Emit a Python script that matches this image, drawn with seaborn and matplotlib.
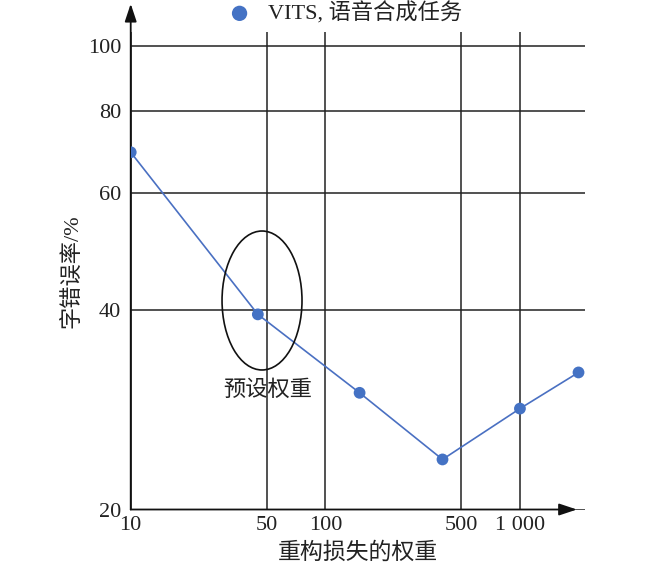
import matplotlib
matplotlib.use("Agg")
import matplotlib.pyplot as plt
import seaborn as sns
import pandas as pd
from matplotlib.patches import Ellipse
from matplotlib.ticker import FixedLocator, FixedFormatter, NullLocator

# ---- data ----
weights = [10, 45, 150, 400, 1000, 2000]
cer = [69.2, 39.4, 30.0, 23.8, 28.4, 32.2]
series_label = "VITS, 语音合成任务"
x_ticks = [10, 50, 100, 500, 1000]
x_tick_labels = ["10", "50", "100", "500", "1 000"]
y_ticks = [20, 40, 60, 80, 100]
y_tick_labels = ["20", "40", "60", "80", "100"]
x_title = "重构损失的权重"
y_title = "字错误率/%"
note_text = "预设权重"

df = pd.DataFrame({"w": weights, "cer": cer})

sns.set_theme(style="white")
fam = ["Liberation Serif", "Noto Sans CJK SC", "DejaVu Sans"]
plt.rcParams["font.family"] = fam

fig = plt.figure(figsize=(6.5, 5.66), dpi=100)
ax = fig.add_axes([0.2011, 0.0998, 0.699, 0.8437])

blue = "#4472C4"
sns.lineplot(data=df, x="w", y="cer", ax=ax, color="#4a70c2", lw=1.2, zorder=3)
sns.scatterplot(data=df, x="w", y="cer", ax=ax, color=blue, s=72,
                edgecolor="none", zorder=4, label=series_label)

ax.set_xscale("log")
ax.set_yscale("log")
ax.set_xlim(10, 2161)
ax.set_ylim(20, 105.1)

ax.xaxis.set_major_locator(FixedLocator(x_ticks))
ax.xaxis.set_major_formatter(FixedFormatter(x_tick_labels))
ax.xaxis.set_minor_locator(NullLocator())
ax.yaxis.set_major_locator(FixedLocator(y_ticks))
ax.yaxis.set_major_formatter(FixedFormatter(y_tick_labels))
ax.yaxis.set_minor_locator(NullLocator())

ax.grid(True, which="major", color="#222222", lw=1.1)
ax.tick_params(axis="both", length=0, labelsize=16, colors="#222222")
ax.tick_params(axis="x", pad=5)
ax.tick_params(axis="y", pad=7)

for s in ax.spines.values():
    s.set_visible(False)

# axis arrows
ax.annotate("", xy=(0.982, 0), xytext=(0, 0), xycoords="axes fraction",
            textcoords="axes fraction",
            arrowprops=dict(arrowstyle="-|>,head_length=0.9,head_width=0.3",
                            color="#111111", lw=1.3, shrinkA=0, shrinkB=0),
            annotation_clip=False)
ax.annotate("", xy=(0, 1.059), xytext=(0, 0), xycoords="axes fraction",
            textcoords="axes fraction",
            arrowprops=dict(arrowstyle="-|>,head_length=0.9,head_width=0.3",
                            color="#111111", lw=1.3, shrinkA=0, shrinkB=0),
            annotation_clip=False)

# ellipse annotation
ell = Ellipse((0.289, 0.4377), 0.176, 0.291, transform=ax.transAxes,
              fill=False, edgecolor="#111111", lw=1.2, zorder=5)
ax.add_patch(ell)
ax.text(50.5, 30.2, note_text, ha="center", va="center", fontsize=16,
        color="#222222", family=fam, zorder=6)

ax.set_xlabel(x_title, fontsize=16.5, color="#222222", labelpad=5)
ax.set_ylabel(y_title, fontsize=16, color="#222222", labelpad=4)

leg = ax.legend(loc="center", bbox_to_anchor=(0.523, 0.977),
                bbox_transform=fig.transFigure, frameon=False,
                fontsize=16, handletextpad=0.3, markerscale=1.3,
                borderaxespad=0)
for t in leg.get_texts():
    t.set_color("#222222")

fig.savefig("out.png", dpi=100)
